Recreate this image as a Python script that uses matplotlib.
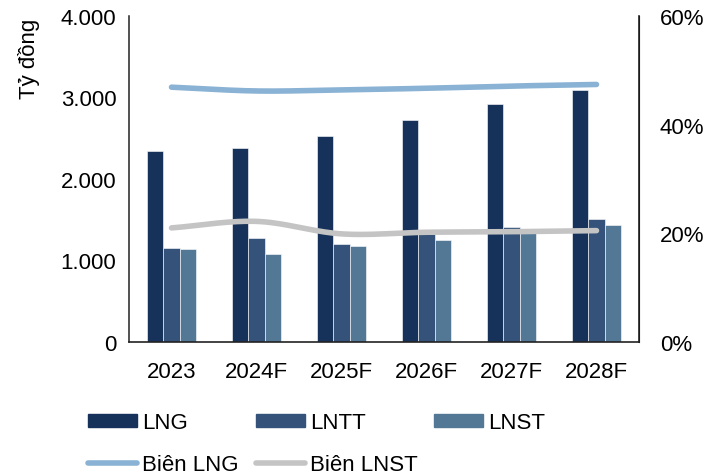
import matplotlib
matplotlib.use("Agg")
import matplotlib.pyplot as plt
import numpy as np
from matplotlib.lines import Line2D
from matplotlib.patches import Patch

plt.rcParams['font.family'] = ['Liberation Sans', 'DejaVu Sans']

categories = ["2023", "2024F", "2025F", "2026F", "2027F", "2028F"]
lng = [2347, 2380, 2528, 2724, 2920, 3096]
lntt = [1157, 1272, 1202, 1320, 1411, 1505]
lnst = [1145, 1080, 1174, 1255, 1365, 1436]
bien_lng = [46.9, 46.2, 46.4, 46.7, 47.1, 47.4]
bien_lnst = [21.0, 22.2, 19.9, 20.2, 20.3, 20.5]

c_lng = "#17325a"
c_lntt = "#34527a"
c_lnst = "#527896"
c_blng = "#8ab2d4"
c_blnst = "#c4c4c4"

FS = 16


def smooth(x, y, n=30):
    # Catmull-Rom spline through the points
    x = np.asarray(x, float)
    y = np.asarray(y, float)
    px = np.concatenate([[2 * x[0] - x[1]], x, [2 * x[-1] - x[-2]]])
    py = np.concatenate([[2 * y[0] - y[1]], y, [2 * y[-1] - y[-2]]])
    xs, ys = [], []
    for i in range(1, len(px) - 2):
        t = np.linspace(0, 1, n, endpoint=False)
        for arr, out in ((px, xs), (py, ys)):
            p0, p1, p2, p3 = arr[i - 1], arr[i], arr[i + 1], arr[i + 2]
            out.extend(0.5 * ((2 * p1) + (-p0 + p2) * t
                              + (2 * p0 - 5 * p1 + 4 * p2 - p3) * t ** 2
                              + (-p0 + 3 * p1 - 3 * p2 + p3) * t ** 3))
    xs.append(x[-1])
    ys.append(y[-1])
    return np.array(xs), np.array(ys)


fig = plt.figure(figsize=(7.24, 4.77), dpi=100)
ax = fig.add_axes([129 / 724, 1 - 343 / 477, (639 - 129) / 724, (343 - 17) / 477])
ax2 = ax.twinx()

x = np.arange(len(categories))
w = 0.195
ax.bar(x - w, lng, w, color=c_lng, edgecolor="white", linewidth=0.4, zorder=2)
ax.bar(x, lntt, w, color=c_lntt, edgecolor="white", linewidth=0.4, zorder=2)
ax.bar(x + w, lnst, w, color=c_lnst, edgecolor="white", linewidth=0.4, zorder=2)

ax.set_xlim(-0.5, len(categories) - 0.5)
ax.set_ylim(0, 4000)
ax.set_yticks([0, 1000, 2000, 3000, 4000])
ax.set_yticklabels(["0", "1.000", "2.000", "3.000", "4.000"])
ax.set_xticks(x)
ax.set_xticklabels(categories)

sx, sy = smooth(x, bien_lng)
ax2.plot(sx, sy, color=c_blng, lw=4, solid_capstyle="round", zorder=3)
sx, sy = smooth(x, bien_lnst)
ax2.plot(sx, sy, color=c_blnst, lw=4, solid_capstyle="round", zorder=3)
ax2.set_ylim(0, 60)
ax2.set_yticks([0, 20, 40, 60])
ax2.set_yticklabels(["0%", "20%", "40%", "60%"])

for a in (ax, ax2):
    a.spines["top"].set_visible(False)
    a.tick_params(length=0, labelsize=FS, colors="black")
ax.spines["left"].set_color("#222222")
ax.spines["left"].set_linewidth(1.1)
ax.spines["bottom"].set_color("#222222")
ax.spines["bottom"].set_linewidth(1.2)
ax2.spines["left"].set_visible(False)
ax2.spines["bottom"].set_visible(False)
ax2.spines["right"].set_color("#222222")
ax2.spines["right"].set_linewidth(1.2)
ax.tick_params(axis="x", pad=14)
ax.tick_params(axis="y", pad=9)
ax2.tick_params(axis="y", pad=15)

fig.text(29 / 724, 1 - 19 / 477, "Tỷ đồng", rotation=90, ha="center", va="top", fontsize=FS)

h1 = [Patch(color=c_lng), Patch(color=c_lntt), Patch(color=c_lnst)]
fig.legend(h1, ["LNG", "LNTT", "LNST"], loc="center left",
           bbox_to_anchor=(88 / 724, 1 - 424 / 477), ncol=3, frameon=False,
           borderpad=0, borderaxespad=0,
           fontsize=FS, handlelength=2.2, handleheight=0.55, handletextpad=0.25,
           columnspacing=3.05)
h2 = [Line2D([], [], color=c_blng, lw=4, solid_capstyle="round"),
      Line2D([], [], color=c_blnst, lw=4, solid_capstyle="round")]
fig.legend(h2, ["Biên LNG", "Biên LNST"], loc="center left",
           bbox_to_anchor=(88 / 724, 1 - 466 / 477), ncol=2, frameon=False,
           borderpad=0, borderaxespad=0,
           fontsize=FS, handlelength=2.2, handletextpad=0.25, columnspacing=0.75)

fig.savefig("out.png", dpi=100, facecolor="white")
